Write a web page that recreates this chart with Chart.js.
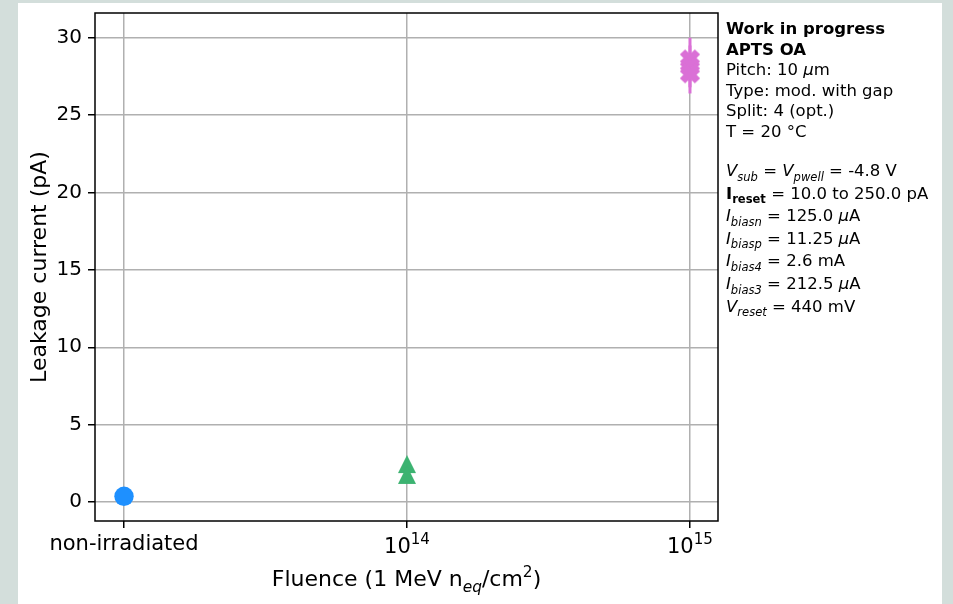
<!DOCTYPE html>
<html><head><meta charset="utf-8">
<script src="https://cdn.jsdelivr.net/npm/chart.js@4"></script>
<style>
html,body{margin:0;padding:0;background:#d3dedb;}
#wrap{position:absolute;left:0;top:0;width:953px;height:604px;}
</style>
</head><body>
<div id="wrap"><canvas id="c" width="953" height="604"></canvas></div>
<script>
// ---- data ----
const categories = ['non-irradiated', '10^14', '10^15'];
const categoryPositions = [0, 1, 2];
const nonIrrValues = [0.37];
const nonIrrErrors = [0.05];
const fluence14Values = [2.45, 1.75];
const fluence14Errors = [0.1, 0.1];
const fluence15Values = [28.6, 28.15, 27.7];
const fluence15Errors = [1.4, 1.35, 1.3];
const yTicks = [0, 5, 10, 15, 20, 25, 30];
const yLabel = 'Leakage current (pA)';
const infoBlock1 = [
  [['Work in progress', 'b', 0]],
  [['APTS OA', 'b', 0]],
  [['Pitch: 10 ', 'n', 0], ['μ', 'i', 0], ['m', 'n', 0]],
  [['Type: mod. with gap', 'n', 0]],
  [['Split: 4 (opt.)', 'n', 0]],
  [['T = 20 °C', 'n', 0]]
];
const infoBlock2 = [
  [['V', 'i', 0], ['sub', 'i', -1], [' = ', 'n', 0], ['V', 'i', 0], ['pwell', 'i', -1], [' = -4.8 V', 'n', 0]],
  [['I', 'b', 0], ['reset', 'b', -1], [' = 10.0 to 250.0 pA', 'n', 0]],
  [['I', 'i', 0], ['biasn', 'i', -1], [' = 125.0 ', 'n', 0], ['μ', 'i', 0], ['A', 'n', 0]],
  [['I', 'i', 0], ['biasp', 'i', -1], [' = 11.25 ', 'n', 0], ['μ', 'i', 0], ['A', 'n', 0]],
  [['I', 'i', 0], ['bias4', 'i', -1], [' = 2.6 mA', 'n', 0]],
  [['I', 'i', 0], ['bias3', 'i', -1], [' = 212.5 ', 'n', 0], ['μ', 'i', 0], ['A', 'n', 0]],
  [['V', 'i', 0], ['reset', 'i', -1], [' = 440 mV', 'n', 0]]
];
const xTitle = [['Fluence (1 MeV n', 'n', 0], ['eq', 'i', -1], ['/cm', 'n', 0], ['2', 'n', 1], [')', 'n', 0]];

const FAM = '"DejaVu Sans", sans-serif';

// ---- markers ----
function triangleMarker(color) {
  const c = document.createElement('canvas'); c.width = 20; c.height = 20;
  const g = c.getContext('2d');
  g.fillStyle = color; g.beginPath();
  g.moveTo(10, 1); g.lineTo(19, 19); g.lineTo(1, 19); g.closePath(); g.fill();
  return c;
}
function xMarker(color) {
  const c = document.createElement('canvas'); c.width = 24; c.height = 24;
  const g = c.getContext('2d');
  g.translate(12, 12); g.rotate(Math.PI / 4);
  const L = 10.6, w = 3.7;
  g.fillStyle = color; g.beginPath();
  g.moveTo(-w, -L); g.lineTo(w, -L); g.lineTo(w, -w); g.lineTo(L, -w); g.lineTo(L, w);
  g.lineTo(w, w); g.lineTo(w, L); g.lineTo(-w, L); g.lineTo(-w, w); g.lineTo(-L, w);
  g.lineTo(-L, -w); g.lineTo(-w, -w); g.closePath(); g.fill();
  return c;
}

function drawRich(ctx, segs, x, y, size, align, supScale) {
  const ss = supScale || 0.7;
  const fontFor = s => {
    const sz = s[2] ? size * ss : size;
    const st = s[1] === 'i' ? 'italic ' : s[1] === 'b' ? 'bold ' : '';
    return st + sz + 'px ' + FAM;
  };
  let w = 0;
  segs.forEach(s => { ctx.font = fontFor(s); w += ctx.measureText(s[0]).width; });
  let cx = align === 'center' ? x - w / 2 : x;
  ctx.textAlign = 'left'; ctx.textBaseline = 'alphabetic'; ctx.fillStyle = '#000';
  segs.forEach(s => {
    ctx.font = fontFor(s);
    const dy = s[2] === -1 ? size * 0.28 : s[2] === 1 ? -size * 0.42 : 0;
    ctx.fillText(s[0], cx, y + dy);
    cx += ctx.measureText(s[0]).width;
  });
}
function labelSegs(lbl) {
  const m = lbl.split('^');
  return m.length > 1 ? [[m[0], 'n', 0], [m[1], 'n', 1]] : [[lbl, 'n', 0]];
}

const bgPlugin = {
  id: 'bg',
  beforeDraw(chart) {
    const ctx = chart.ctx;
    ctx.save();
    ctx.fillStyle = '#d3dedb'; ctx.fillRect(0, 0, chart.width, chart.height);
    ctx.fillStyle = '#ffffff'; ctx.fillRect(18, 3, 924, 601);
    ctx.restore();
  }
};

const errPlugin = {
  id: 'err',
  beforeDatasetsDraw(chart) {
    const ctx = chart.ctx, xs = chart.scales.x, ys = chart.scales.y;
    ctx.save();
    chart.data.datasets.forEach(ds => {
      ctx.strokeStyle = ds.errColor; ctx.lineWidth = 3;
      ds.data.forEach((p, i) => {
        const e = ds.errors[i];
        const px = xs.getPixelForValue(p.x);
        ctx.beginPath();
        ctx.moveTo(px, ys.getPixelForValue(p.y + e));
        ctx.lineTo(px, ys.getPixelForValue(p.y - e));
        ctx.stroke();
      });
    });
    ctx.restore();
  }
};

const framePlugin = {
  id: 'frame',
  afterDraw(chart) {
    const ctx = chart.ctx, a = chart.chartArea, xs = chart.scales.x;
    ctx.save();
    ctx.strokeStyle = '#000'; ctx.lineWidth = 1.5;
    ctx.strokeRect(a.left, a.top, a.right - a.left, a.bottom - a.top);
    // x tick labels (with superscripts)
    categoryPositions.forEach((v, i) => {
      const segs = labelSegs(categories[i]);
      const base = segs.length > 1 ? 553 : 550;
      drawRich(ctx, segs, xs.getPixelForValue(v), base, 21, 'center', 0.72);
    });
    // x-axis title
    drawRich(ctx, xTitle, (a.left + a.right) / 2, 586, 22, 'center');
    // info text
    const x0 = a.right + 8;
    infoBlock1.forEach((l, i) => drawRich(ctx, l, x0, 34 + i * 20.6, 16.5, 'left'));
    infoBlock2.forEach((l, i) => drawRich(ctx, l, x0, 176 + i * 22.6, 16.5, 'left'));
    ctx.restore();
  }
};

const mk = (vals, k) => vals.map(v => ({ x: categoryPositions[k], y: v }));

new Chart(document.getElementById('c'), {
  type: 'scatter',
  data: {
    datasets: [
      { data: mk(nonIrrValues, 0), errors: nonIrrErrors, errColor: '#1e90ff',
        pointStyle: 'circle', pointRadius: 9.7, pointBackgroundColor: '#1e90ff', pointBorderWidth: 0 },
      { data: mk(fluence14Values, 1), errors: fluence14Errors, errColor: '#3cb371',
        pointStyle: triangleMarker('#3cb371'), pointRadius: 9 },
      { data: mk(fluence15Values, 2), errors: fluence15Errors, errColor: '#da70d6',
        pointStyle: xMarker('#da70d6'), pointRadius: 9 }
    ]
  },
  options: {
    responsive: false, animation: false, devicePixelRatio: 1,
    layout: { padding: { left: 0, right: 235, top: 13, bottom: 0 } },
    plugins: { legend: { display: false }, tooltip: { enabled: false } },
    scales: {
      x: {
        type: 'linear', min: -0.1025, max: 2.099,
        afterBuildTicks: s => { s.ticks = categoryPositions.map(v => ({ value: v })); },
        afterFit: s => { s.height = 83; s.paddingLeft = 0; s.paddingRight = 0; },
        ticks: { display: false },
        grid: { color: '#b0b0b0', lineWidth: 1.5, tickLength: 7, tickColor: '#000', tickWidth: 1.5 },
        border: { display: false }
      },
      y: {
        type: 'linear', min: -1.228, max: 31.6,
        afterBuildTicks: s => { s.ticks = yTicks.map(v => ({ value: v })); },
        afterFit: s => { s.width = 95; s.paddingTop = 0; s.paddingBottom = 0; },
        ticks: { color: '#000', font: { family: FAM, size: 20 }, padding: 6 },
        grid: { color: '#b0b0b0', lineWidth: 1.5, tickLength: 7, tickColor: '#000', tickWidth: 1.5 },
        border: { display: false },
        title: { display: true, text: yLabel, color: '#000', font: { family: FAM, size: 22 }, padding: { top: 27, bottom: 0 } }
      }
    }
  },
  plugins: [bgPlugin, errPlugin, framePlugin]
});
</script>
</body></html>
